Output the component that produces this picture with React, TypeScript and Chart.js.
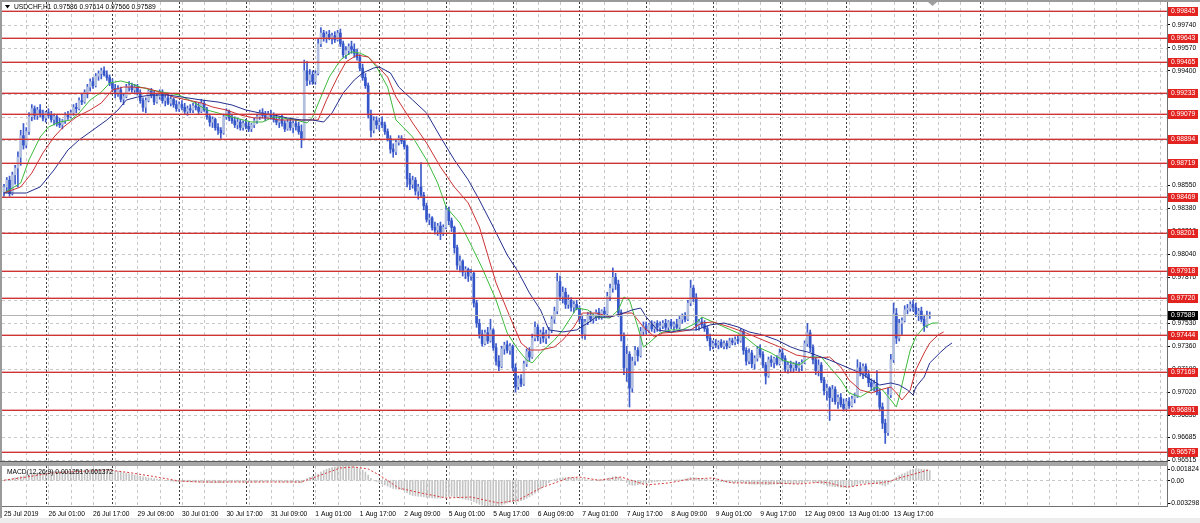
import React, { useEffect, useRef } from "react";
import { Chart, registerables } from "chart.js";

Chart.register(...registerables);

// ---------------- DATA (prices in points, 1 point = 0.00001) ----------------
const opens = [
  98505,98540,98590,98490,98630,98680,98760,98920,98850,98950,
  99060,99120,99070,99110,99080,99050,99090,99070,99040,99060,
  99010,99000,99030,99070,99060,99090,99130,99120,99180,99170,
  99240,99280,99320,99290,99360,99380,99400,99370,99350,99310,
  99270,99230,99260,99190,99210,99280,99290,99260,99280,99240,
  99180,99130,99180,99250,99220,99170,99210,99240,99180,99200,
  99160,99190,99150,99120,99150,99130,99100,99120,99110,99140,
  99130,99100,99160,99110,99060,99020,99040,98980,98960,98940,
  99060,99100,99050,99030,99000,99020,98980,99010,98990,98970,
  99000,99030,99060,99090,99070,99050,99080,99060,99040,99020,
  99040,99010,98970,99020,98980,99010,98990,98950,98900,99400,
  99330,99370,99320,99380,99600,99680,99650,99670,99640,99660,
  99630,99680,99600,99520,99550,99580,99560,99530,99500,99420,
  99350,99290,99080,98960,99030,99000,99020,99000,98950,98900,
  98820,98800,98870,98900,98880,98840,98600,98560,98590,98510,
  98540,98480,98400,98300,98310,98240,98220,98250,98200,98240,
  98370,98290,98240,98090,97960,97990,97910,97930,97880,97900,
  97680,97530,97450,97380,97460,97400,97480,97350,97250,97210,
  97340,97370,97330,97360,97200,97060,97120,97080,97230,97320,
  97280,97420,97500,97430,97460,97420,97450,97480,97560,97620,
  97840,97730,97760,97670,97700,97650,97670,97640,97560,97450,
  97540,97590,97560,97580,97610,97580,97620,97600,97730,97790,
  97870,97820,97610,97440,97200,97300,97050,97250,97330,97290,
  97470,97510,97480,97520,97490,97530,97500,97510,97530,97500,
  97540,97510,97520,97500,97560,97580,97560,97680,97790,97720,
  97510,97540,97520,97490,97420,97360,97380,97370,97390,97360,
  97380,97360,97400,97390,97410,97400,97470,97330,97250,97310,
  97230,97270,97340,97300,97220,97140,97260,97240,97270,97230,
  97310,97270,97190,97220,97200,97230,97200,97220,97240,97380,
  97460,97350,97260,97180,97220,97110,97030,97050,96980,97040,
  96950,96980,96930,96900,96950,96920,96970,96990,97200,97170,
  97210,97150,97090,97060,97080,97020,96910,96790,96720,97000,
  97260,97600,97420,97530,97550,97630,97640,97670,97650,97600,
  97620,97560,97510,97586,
];
const highs = [
  98560,98610,98620,98650,98700,98800,98960,99010,98980,99090,
  99150,99140,99130,99150,99110,99100,99120,99100,99080,99070,
  99050,99040,99090,99100,99110,99150,99160,99200,99230,99260,
  99300,99340,99350,99380,99400,99420,99430,99400,99370,99340,
  99300,99290,99280,99230,99300,99320,99310,99300,99300,99260,
  99200,99200,99260,99270,99250,99230,99260,99260,99220,99230,
  99210,99200,99180,99170,99180,99160,99140,99150,99160,99170,
  99160,99190,99180,99130,99080,99060,99050,99010,98980,99080,
  99120,99110,99080,99060,99050,99040,99030,99040,99020,99010,
  99050,99080,99110,99120,99100,99100,99110,99090,99070,99060,
  99070,99030,99040,99050,99030,99040,99020,99000,99480,99470,
  99410,99400,99400,99640,99720,99700,99690,99700,99680,99690,
  99700,99710,99620,99580,99600,99620,99600,99560,99520,99450,
  99380,99310,99110,99060,99060,99050,99060,99020,98970,98920,
  98860,98890,98920,98920,98900,98850,98640,98620,98610,98560,
  98720,98500,98420,98340,98320,98280,98270,98280,98260,98400,
  98390,98310,98250,98110,98030,98000,97950,97940,97930,97910,
  97700,97560,97480,97480,97500,97560,97490,97380,97290,97360,
  97390,97400,97380,97370,97230,97140,97150,97250,97340,97350,
  97450,97540,97520,97480,97500,97480,97500,97580,97650,97900,
  97880,97800,97790,97740,97720,97690,97700,97660,97590,97560,
  97610,97620,97600,97630,97640,97630,97650,97760,97820,97940,
  97900,97850,97630,97460,97360,97320,97280,97360,97350,97500,
  97540,97540,97530,97550,97540,97550,97540,97550,97560,97550,
  97560,97540,97560,97580,97600,97610,97700,97850,97810,97750,
  97560,97570,97550,97510,97450,97400,97410,97400,97410,97400,
  97400,97420,97420,97430,97440,97490,97480,97350,97340,97330,
  97290,97360,97370,97320,97240,97280,97290,97280,97290,97340,
  97340,97290,97240,97250,97240,97250,97240,97260,97400,97530,
  97480,97370,97280,97260,97240,97130,97080,97060,97070,97060,
  97000,97010,96970,96970,96980,96990,97010,97260,97240,97230,
  97230,97180,97120,97110,97180,97040,96940,96820,97050,97300,
  97680,97640,97560,97570,97660,97670,97690,97700,97680,97640,
  97650,97590,97620,97614,
];
const lows = [
  98470,98500,98470,98480,98560,98540,98700,98820,98830,98930,
  99030,99040,99040,99060,99030,99020,99050,99020,99000,98990,
  98980,98970,99010,99040,99050,99070,99090,99110,99150,99160,
  99200,99250,99270,99280,99330,99340,99360,99330,99290,99250,
  99200,99210,99170,99150,99200,99250,99240,99230,99220,99160,
  99100,99090,99170,99200,99150,99160,99190,99160,99140,99150,
  99140,99130,99100,99100,99110,99080,99070,99090,99090,99110,
  99080,99090,99100,99040,98990,98980,98960,98930,98900,98930,
  99040,99030,99010,98980,98970,98960,98960,98970,98950,98950,
  98980,99010,99040,99050,99030,99040,99040,99020,99000,98980,
  98990,98950,98960,98960,98940,98960,98930,98830,98890,99290,
  99300,99300,99300,99370,99580,99620,99610,99630,99600,99610,
  99620,99580,99500,99490,99520,99530,99500,99480,99400,99330,
  99270,99050,98910,98940,98970,98960,98980,98930,98880,98790,
  98760,98780,98850,98860,98820,98540,98520,98530,98480,98450,
  98460,98370,98280,98260,98220,98190,98180,98150,98180,98230,
  98260,98210,98050,97930,97910,97880,97860,97840,97850,97650,
  97500,97420,97360,97370,97380,97390,97330,97220,97180,97200,
  97300,97310,97300,97180,97020,97040,97060,97070,97210,97250,
  97270,97400,97400,97380,97390,97380,97420,97460,97530,97600,
  97700,97680,97640,97640,97620,97610,97630,97540,97420,97410,
  97520,97540,97530,97550,97560,97560,97570,97590,97700,97760,
  97780,97580,97400,97150,97100,96910,97020,97220,97250,97280,
  97440,97450,97460,97470,97460,97470,97470,97490,97480,97480,
  97490,97480,97490,97490,97530,97540,97550,97660,97690,97480,
  97480,97500,97470,97400,97330,97340,97350,97340,97350,97340,
  97340,97350,97370,97370,97380,97390,97300,97220,97230,97200,
  97190,97250,97280,97200,97080,97130,97210,97200,97220,97220,
  97250,97170,97160,97170,97170,97180,97170,97180,97230,97360,
  97320,97230,97150,97140,97090,97000,96960,96810,96950,96930,
  96900,96910,96880,96890,96900,96910,96940,96980,97140,97120,
  97130,97060,97030,97030,97000,96880,96750,96640,96700,96980,
  97240,97380,97400,97440,97540,97600,97620,97620,97580,97550,
  97540,97470,97500,97566,
];
const closes = [
  98540,98590,98490,98630,98680,98760,98920,98850,98950,99060,
  99120,99070,99110,99080,99050,99090,99070,99040,99060,99010,
  99000,99030,99070,99060,99090,99130,99120,99180,99170,99240,
  99280,99320,99290,99360,99380,99400,99370,99350,99310,99270,
  99230,99260,99190,99210,99280,99290,99260,99280,99240,99180,
  99130,99180,99250,99220,99170,99210,99240,99180,99200,99160,
  99190,99150,99120,99150,99130,99100,99120,99110,99140,99130,
  99100,99160,99110,99060,99020,99040,98980,98960,98940,99060,
  99100,99050,99030,99000,99020,98980,99010,98990,98970,99000,
  99030,99060,99090,99070,99050,99080,99060,99040,99020,99040,
  99010,98970,99020,98980,99010,98990,98950,98900,99400,99330,
  99370,99320,99380,99600,99680,99650,99670,99640,99660,99630,
  99680,99600,99520,99550,99580,99560,99530,99500,99420,99350,
  99290,99080,98960,99030,99000,99020,99000,98950,98900,98820,
  98800,98870,98900,98880,98840,98600,98560,98590,98510,98540,
  98480,98400,98300,98310,98240,98220,98250,98200,98240,98370,
  98290,98240,98090,97960,97990,97910,97930,97880,97900,97680,
  97530,97450,97380,97460,97400,97480,97350,97250,97210,97340,
  97370,97330,97360,97200,97060,97120,97080,97230,97320,97280,
  97420,97500,97430,97460,97420,97450,97480,97560,97620,97840,
  97730,97760,97670,97700,97650,97670,97640,97560,97450,97540,
  97590,97560,97580,97610,97580,97620,97600,97730,97790,97870,
  97820,97610,97440,97200,97300,97050,97250,97330,97290,97470,
  97510,97480,97520,97490,97530,97500,97510,97530,97500,97540,
  97510,97520,97500,97560,97580,97560,97680,97790,97720,97510,
  97540,97520,97490,97420,97360,97380,97370,97390,97360,97380,
  97360,97400,97390,97410,97400,97470,97330,97250,97310,97230,
  97270,97340,97300,97220,97140,97260,97240,97270,97230,97310,
  97270,97190,97220,97200,97230,97200,97220,97240,97380,97460,
  97350,97260,97180,97220,97110,97030,97050,96980,97040,96950,
  96980,96930,96900,96950,96920,96970,96990,97200,97170,97210,
  97150,97090,97060,97080,97020,96910,96790,96720,97000,97260,
  97600,97420,97530,97550,97630,97640,97670,97650,97600,97620,
  97560,97510,97586,97589,
];

// Alligator lines (bar index, price in points)
const jawBars = [0,8,13,18,23,27,32,37,41,44,48,53,59,64,71,77,82,87,92,97,102,107,111,115,118,122,126,129,133,135,139,142,147,152,157,162,167,171,176,181,185,189,193,196,201,206,210,213,218,223,226,229,231,235,240,244,249,254,259,264,268,273,278,283,286,289,294,297,303,308,312,315,319,322,325,327,328,331,333,337,339,341];
const jawVals = [98495,98495,98540,98666,98814,98888,98962,99036,99110,99184,99206,99221,99221,99206,99184,99169,99147,99110,99088,99073,99051,99036,99036,99021,99088,99236,99332,99384,99421,99429,99384,99280,99184,99088,98910,98740,98592,98443,98243,98036,97910,97755,97629,97481,97466,97481,97532,97577,97577,97606,97629,97643,97577,97481,97466,97481,97481,97518,97532,97503,97466,97443,97406,97355,97332,97318,97280,97258,97206,97162,97110,97073,97088,97073,97036,96999,97058,97132,97236,97318,97355,97384];
const teethBars = [0,6,10,14,18,21,26,31,35,39,43,46,51,56,61,66,71,75,80,85,90,95,99,104,109,113,116,120,123,127,131,134,138,141,147,152,157,162,167,171,174,177,182,186,189,193,198,201,205,208,213,218,223,226,230,234,237,242,247,251,255,261,267,273,279,285,291,297,301,304,308,312,315,319,321,323,326,328,331,333,336,338];
const teethVals = [98495,98540,98643,98792,98910,98977,99058,99110,99162,99258,99280,99280,99273,99243,99206,99184,99162,99132,99110,99073,99051,99051,99036,99036,99036,99036,99184,99354,99466,99517,99503,99443,99354,99206,99014,98866,98688,98540,98421,98243,98036,97829,97577,97384,97332,97332,97355,97406,97503,97606,97606,97577,97606,97606,97503,97429,97458,97466,97481,97532,97540,97503,97458,97406,97355,97295,97273,97280,97206,97110,97036,97014,97036,97058,97014,96962,97036,97184,97310,97384,97443,97466];
const lipsBars = [0,6,9,13,16,20,24,27,31,35,38,42,45,49,53,59,63,68,73,77,82,89,93,97,100,105,109,111,114,117,121,125,128,131,134,138,141,147,152,156,159,164,168,172,177,181,185,188,190,194,198,201,204,206,210,213,218,221,223,225,228,230,232,236,240,244,249,251,255,259,264,267,271,276,280,286,290,294,297,301,304,308,312,314,316,319,321,322,324,326,328,331,334,336];
const lipsVals = [98495,98569,98740,98910,98984,99021,99036,99088,99184,99243,99310,99325,99310,99280,99258,99236,99221,99169,99110,99088,99058,99021,99021,99058,99051,99036,99014,99058,99206,99354,99480,99540,99532,99503,99429,99280,99036,98910,98740,98569,98392,98273,98110,97940,97703,97458,97332,97258,97236,97332,97406,97481,97577,97643,97629,97577,97569,97629,97725,97703,97503,97355,97384,97458,97481,97481,97532,97577,97540,97503,97458,97421,97355,97310,97258,97221,97280,97280,97206,97110,97014,96984,97036,97058,97036,96962,96910,96984,97162,97332,97429,97503,97532,97532];

// MACD main (histogram), units of 0.00001, one per bar
const macdMain = [
  0,8,15,22,30,38,46,55, 63,72,80,88,95,100,104,107,
  110,112,113,114,115,116,117,118, 120,122,124,126,129,132,135,137,
  139,140,141,141,140,137,133,127, 120,113,105,97,90,83,75,67,
  60,52,45,37,30,25,20,15, 10,5,0,-5,-10,-13,-16,-18,
  -20,-20,-20,-20,-20,-21,-22,-24, -25,-27,-29,-30,-31,-32,-31,-28,
  -25,-23,-22,-21,-20,-21,-22,-24, -25,-24,-22,-21,-20,-18,-16,-15,
  -15,-16,-17,-18,-20,-21,-22,-24, -25,-27,-28,-32,0,22,38,48,
  58,80,105,125,140,152,162,170, 176,180,182,181,179,176,172,166,
  150,130,105,65,25,0,-15,-30, -45,-60,-75,-90,-105,-110,-115,-120,
  -130,-160,-180,-195,-200,-205,-208,-212, -218,-222,-226,-228,-230,-228,-222,-215,
  -208,-205,-210,-220,-230,-238,-245,-252, -260,-275,-292,-308,-320,-328,-330,-326,
  -327,-329,-329,-318,-305,-292,-280,-275, -278,-272,-262,-248,-232,-212,-190,-165,
  -140,-112,-85,-58,-32,-8,10,20, 28,32,33,35,34,32,30,25,
  15,8,5,3,3,5,6,8, 10,18,30,42,48,38,20,-5,
  -30,-55,-65,-62,-58,-48,-40,-35, -30,-25,-20,-16,-12,-9,-6,-3,
  0,2,4,6,8,15,25,35, 36,30,26,22,17,10,2,-5,
  -10,-14,-18,-22,-26,-28,-30,-32, -30,-28,-35,-42,-46,-50,-52,-50,
  -50,-52,-58,-56,-53,-50,-48,-44, -42,-44,-45,-44,-43,-42,-41,-39,
  -30,-15,-12,-18,-28,-35,-45,-55, -62,-75,-78,-82,-85,-88,-92,-92,
  -88,-80,-70,-50,-40,-38,-36,-38, -40,-42,-44,-52,-65,-75,-55,-25,
  10,35,60,80,90,110,130,140, 145,145,142,138,132,125,
];
// MACD signal line (bar index, value in 0.00001)
const signalBars = [0,8,17,23,38,46,55,63,71,82,95,107,111,116,121,126,131,135,142,150,159,168,178,185,193,203,207,214,222,231,239,247,255,262,275,286,294,297,301,304,310,315,319,322,326,330,333];
const signalVals = [0,41,93,106,131,93,41,-10,-23,-23,-23,-23,29,93,157,170,144,67,-100,-163,-227,-215,-292,-253,-100,29,41,0,41,-61,-35,16,29,-35,-35,-48,-23,-35,-74,-86,-48,-35,-10,29,67,106,137];

const levelPrices = [0.99845,0.99643,0.99465,0.99233,0.99079,0.98894,0.98719,0.98469,0.98201,0.97918,0.97720,0.97444,0.97169,0.96891,0.96579];
const bidPrice = 0.97589;
const priceTicks = [0.9974,0.9957,0.994,0.9923,0.9906,0.9889,0.9872,0.9855,0.9838,0.9821,0.9804,0.9787,0.977,0.9753,0.9736,0.9719,0.9702,0.9685,0.96685,0.96515];
const xLabelBars = [0,16,32,48,64,80,96,112,128,144,160,176,192,208,224,240,256,272,288,304,320];
const xLabelText = ["25 Jul 2019","26 Jul 01:00","26 Jul 17:00","29 Jul 09:00","30 Jul 01:00","30 Jul 17:00","31 Jul 09:00","1 Aug 01:00","1 Aug 17:00","2 Aug 09:00","5 Aug 01:00","5 Aug 17:00","6 Aug 09:00","7 Aug 01:00","7 Aug 17:00","8 Aug 09:00","9 Aug 01:00","9 Aug 17:00","12 Aug 09:00","13 Aug 01:00","13 Aug 17:00"];
const daySeparatorBars = [15,39,63,87,111,135,159,183,207,231,255,279,303,327,351];
const titleText = "USDCHF,H1 0.97586 0.97614 0.97566 0.97589";
const macdTitle = "MACD(12,26,9) 0.001251 0.001372";
const macdAxisValues = [0.001824, 0, -0.003298];

// ---------------- LAYOUT / STYLE ----------------
const W = 1200;
const MAIN_H = 466;
const MACD_H = 57;
const X_MIN = -0.72;
const X_MAX = 418.35;
const PRICE_MIN = 0.9651;
const PRICE_MAX = 0.9991;
const MACD_MIN = -0.003298;
const MACD_MAX = 0.001824;
const PT = 0.00001;
const FONT = '"Liberation Sans", Arial, sans-serif';
const FS = 6.7;

const C = {
  wick: "#3d5bcb",
  bear: "#3556c9",
  bull: "#b3bfdf",
  jaw: "#24308f",
  teeth: "#cc3333",
  lips: "#3dbb3d",
  level: "#cf3434",
  levelSoft: "rgba(214, 80, 80, 0.45)",
  levelBox: "#e2231f",
  bid: "#b4b4b4",
  grid: "#c8c8c8",
  sep: "#3a3a3a",
  hist: "#c4c4c4",
  signal: "#d83a3a",
  frame: "#707070",
};

const crisp = (v: number) => Math.round(v) + 0.5;
function hLine(ctx: CanvasRenderingContext2D, y: number, x0: number, x1: number) {
  ctx.beginPath(); ctx.moveTo(x0, y); ctx.lineTo(x1, y); ctx.stroke();
}
function vLine(ctx: CanvasRenderingContext2D, x: number, y0: number, y1: number) {
  ctx.beginPath(); ctx.moveTo(x, y0); ctx.lineTo(x, y1); ctx.stroke();
}

function drawTimeGrid(chart: any) {
  const { ctx, chartArea: a } = chart;
  const x = chart.scales.x;
  ctx.save();
  ctx.lineWidth = 1;
  ctx.strokeStyle = C.grid;
  ctx.setLineDash([3, 3]);
  for (let b = 8; b <= X_MAX; b += 8) vLine(ctx, crisp(x.getPixelForValue(b)), a.top, a.bottom);
  ctx.strokeStyle = C.sep;
  ctx.setLineDash([2, 2]);
  for (const b of daySeparatorBars) vLine(ctx, crisp(x.getPixelForValue(b)), a.top, a.bottom);
  ctx.restore();
}

const mainPanel = {
  id: "mainPanel",
  beforeDraw(chart: any) {
    const { ctx, chartArea: a } = chart;
    const y = chart.scales.y;
    ctx.save();
    ctx.fillStyle = "#fff";
    ctx.fillRect(0, 0, chart.width, chart.height);
    ctx.strokeStyle = C.grid;
    ctx.lineWidth = 1;
    ctx.setLineDash([3, 3]);
    for (const v of priceTicks) hLine(ctx, crisp(y.getPixelForValue(v)), a.left, a.right);
    ctx.restore();
    drawTimeGrid(chart);
  },
  afterDatasetsDraw(chart: any) {
    const { ctx, chartArea: a } = chart;
    const y = chart.scales.y;
    ctx.save();
    ctx.lineWidth = 1;
    ctx.strokeStyle = C.bid;
    hLine(ctx, crisp(y.getPixelForValue(bidPrice)), a.left, a.right);
    for (const p of levelPrices) {
      const py = Math.round(y.getPixelForValue(p));
      ctx.fillStyle = C.level;
      ctx.fillRect(a.left, py, a.right - a.left, 1);
      ctx.fillStyle = C.levelSoft;
      ctx.fillRect(a.left, py - 1, a.right - a.left, 1);
    }
    ctx.restore();
  },
  afterDraw(chart: any) {
    const { ctx, chartArea: a } = chart;
    const y = chart.scales.y;
    ctx.save();
    ctx.font = `${FS}px ${FONT}`;
    ctx.textBaseline = "middle";
    ctx.textAlign = "left";
    const box = (p: number, fill: string) => {
      const py = Math.round(y.getPixelForValue(p));
      ctx.fillStyle = fill;
      ctx.fillRect(Math.round(a.right) + 1, py - 4, 30, 9);
      ctx.fillStyle = "#fff";
      ctx.fillText(p.toFixed(5), Math.round(a.right) + 4, py + 0.5);
    };
    levelPrices.forEach((p) => box(p, C.levelBox));
    box(bidPrice, "#000");
    // title
    ctx.fillStyle = "#000";
    ctx.beginPath(); ctx.moveTo(5, 5); ctx.lineTo(10, 5); ctx.lineTo(7.5, 8.5); ctx.closePath(); ctx.fill();
    ctx.fillText(titleText, 14, 7.5);
    // chart shift marker
    ctx.fillStyle = "#a0a0a0";
    ctx.beginPath(); ctx.moveTo(928, 2); ctx.lineTo(937, 2); ctx.lineTo(932.5, 6); ctx.closePath(); ctx.fill();
    // frame
    ctx.fillStyle = "#9a9a9a";
    ctx.fillRect(0, 0, W, 2);
    ctx.fillRect(0, 0, 2, chart.height);
    // panel separator
    ctx.fillStyle = "#5a5a5a";
    ctx.fillRect(0, Math.round(a.bottom), Math.round(a.right) + 1, 1);
    ctx.fillStyle = "#a6a6a6";
    ctx.fillRect(0, Math.round(a.bottom) + 1, Math.round(a.right) + 1, 4);
    ctx.restore();
  },
};

const macdPanel = {
  id: "macdPanel",
  beforeDraw(chart: any) {
    const { ctx, chartArea: a } = chart;
    const y = chart.scales.y;
    ctx.save();
    ctx.fillStyle = "#fff";
    ctx.fillRect(0, 0, chart.width, chart.height);
    ctx.strokeStyle = C.grid;
    ctx.lineWidth = 1;
    ctx.setLineDash([3, 3]);
    hLine(ctx, crisp(y.getPixelForValue(0)), a.left, a.right);
    ctx.restore();
    drawTimeGrid(chart);
  },
  afterDraw(chart: any) {
    const { ctx, chartArea: a } = chart;
    const y = chart.scales.y;
    ctx.save();
    ctx.fillStyle = C.frame;
    ctx.fillRect(Math.round(a.right), 0, 1, Math.round(a.bottom) + 1);
    ctx.fillRect(0, Math.round(a.bottom), Math.round(a.right) + 1, 1);
    ctx.fillStyle = "#9a9a9a";
    ctx.fillRect(0, 0, 2, chart.height);
    ctx.font = `${FS}px ${FONT}`;
    ctx.textBaseline = "middle";
    ctx.textAlign = "left";
    ctx.fillStyle = "#000";
    ctx.fillText(macdTitle, 7, 6.5);
    macdAxisValues.forEach((v, k) => {
      let py = y.getPixelForValue(v);
      if (k === 0) py = a.top + 2.5;
      if (k === macdAxisValues.length - 1) py = a.bottom - 3;
      const txt = v === 0 ? "0.00" : v.toFixed(6);
      ctx.fillRect(Math.round(a.right) + 1, Math.round(py), 2, 1);
      ctx.fillText(txt, Math.round(a.right) + (v < 0 ? 2 : 4), py + 0.5);
    });
    ctx.fillStyle = "#ededed";
    ctx.fillRect(0, chart.height - 5, W, 5);
    ctx.restore();
  },
};

export default function App() {
  const mainRef = useRef<HTMLCanvasElement>(null);
  const macdRef = useRef<HTMLCanvasElement>(null);

  useEffect(() => {
    document.body.style.margin = "0";
    const n = closes.length;
    const idx = Array.from({ length: n }, (_, i) => i);
    const wickData = idx.map((i) => ({ x: i, y: [lows[i] * PT, highs[i] * PT] }));
    const bodyData = idx.map((i) => ({ x: i, y: [opens[i] * PT, closes[i] * PT] }));
    const bodyColors = idx.map((i) => (closes[i] >= opens[i] ? C.bull : C.bear));
    const lineDs = (label: string, bars: number[], vals: number[], color: string) => ({
      type: "line" as const,
      label,
      data: bars.map((b, k) => ({ x: b, y: vals[k] * PT })),
      borderColor: color,
      borderWidth: 1,
      pointRadius: 0,
      tension: 0,
      order: 1,
    });

    const axisFont = { family: FONT, size: FS };

    const main = new Chart(mainRef.current as HTMLCanvasElement, {
      type: "bar",
      data: {
        datasets: [
          { type: "bar", label: "wick", data: wickData as any, backgroundColor: C.wick, barThickness: 1, grouped: false, order: 3 } as any,
          { type: "bar", label: "body", data: bodyData as any, backgroundColor: bodyColors, barThickness: 2, grouped: false, minBarLength: 1, order: 2 } as any,
          lineDs("Jaw", jawBars, jawVals, C.jaw),
          lineDs("Teeth", teethBars, teethVals, C.teeth),
          lineDs("Lips", lipsBars, lipsVals, C.lips),
        ],
      },
      options: {
        animation: false,
        responsive: false,
        maintainAspectRatio: false,
        devicePixelRatio: 1,
        events: [],
        layout: { autoPadding: false, padding: { left: 2, top: 2, right: 0, bottom: 5 } },
        plugins: { legend: { display: false }, tooltip: { enabled: false } },
        scales: {
          x: { type: "linear", min: X_MIN, max: X_MAX, offset: false, display: false },
          y: {
            type: "linear",
            position: "right",
            min: PRICE_MIN,
            max: PRICE_MAX,
            afterBuildTicks: (s: any) => { s.ticks = priceTicks.map((v) => ({ value: v })); },
            afterFit: (s: any) => { s.width = 33; s.paddingTop = 0; s.paddingBottom = 0; },
            ticks: { autoSkip: false, font: axisFont, color: "#000", padding: 2, callback: (v: any) => Number(v).toFixed(5) },
            grid: { display: true, drawOnChartArea: false, drawTicks: true, tickLength: 3, color: "#000" },
            border: { display: true, color: C.frame },
          },
        },
      } as any,
      plugins: [mainPanel],
    });

    const macd = new Chart(macdRef.current as HTMLCanvasElement, {
      type: "bar",
      data: {
        datasets: [
          { type: "bar", label: "MACD", data: idx.map((i) => ({ x: i, y: macdMain[i] * PT })) as any, backgroundColor: C.hist, barThickness: 1, grouped: false, order: 2 } as any,
          {
            type: "line",
            label: "Signal",
            data: signalBars.map((b, k) => ({ x: b, y: signalVals[k] * PT })),
            borderColor: C.signal,
            borderWidth: 1,
            borderDash: [2, 2],
            pointRadius: 0,
            tension: 0,
            order: 1,
          } as any,
        ],
      },
      options: {
        animation: false,
        responsive: false,
        maintainAspectRatio: false,
        devicePixelRatio: 1,
        events: [],
        layout: { autoPadding: false, padding: { left: 2, top: 0, right: 0, bottom: 0 } },
        plugins: { legend: { display: false }, tooltip: { enabled: false } },
        scales: {
          x: {
            type: "linear",
            min: X_MIN,
            max: X_MAX,
            offset: false,
            afterBuildTicks: (s: any) => { s.ticks = xLabelBars.map((v) => ({ value: v })); },
            afterFit: (s: any) => { s.height = 17; s.paddingLeft = 0; s.paddingRight = 0; },
            ticks: {
              autoSkip: false,
              maxRotation: 0,
              minRotation: 0,
              align: "start",
              padding: 4,
              font: axisFont,
              color: "#000",
              callback: (_v: any, i: number) => xLabelText[i],
            },
            grid: { display: false, drawTicks: false },
            border: { display: false },
          },
          y: {
            type: "linear",
            position: "right",
            min: MACD_MIN,
            max: MACD_MAX,
            ticks: { display: false },
            grid: { display: false, drawTicks: false },
            border: { display: false },
            afterFit: (s: any) => { s.width = 33; s.paddingTop = 0; s.paddingBottom = 0; },
          },
        },
      } as any,
      plugins: [macdPanel],
    });

    return () => {
      main.destroy();
      macd.destroy();
    };
  }, []);

  return (
    <div style={{ position: "relative", width: W, height: MAIN_H + MACD_H, background: "#fff", overflow: "hidden" }}>
      <canvas ref={mainRef} width={W} height={MAIN_H} style={{ position: "absolute", left: 0, top: 0, display: "block" }} />
      <canvas ref={macdRef} width={W} height={MACD_H} style={{ position: "absolute", left: 0, top: MAIN_H, display: "block" }} />
    </div>
  );
}
